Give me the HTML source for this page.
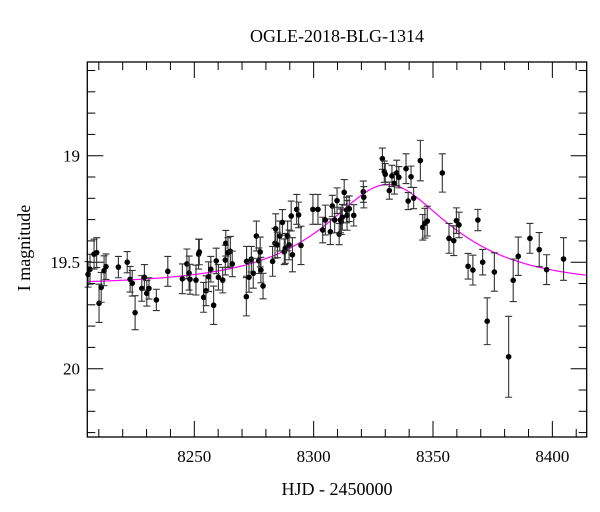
<!DOCTYPE html>
<html><head><meta charset="utf-8"><style>
html,body{margin:0;padding:0;background:#fff;}
svg{display:block;font-family:"Liberation Serif",serif;}
</style></head><body>
<svg id="chart" width="600" height="512" viewBox="0 0 600 512">
<rect x="0" y="0" width="600" height="512" fill="#fff"/>
<text x="337" y="42" font-size="18" text-anchor="middle">OGLE-2018-BLG-1314</text>
<g id="ticks"></g>
<path id="model" fill="none" stroke="#ff00ff" stroke-width="1.2"/>
<g id="pts"></g>
<rect x="87.3" y="62" width="499.4" height="375" fill="none" stroke="#000" stroke-width="1.3"/>
<text x="337" y="495" font-size="18" text-anchor="middle">HJD - 2450000</text>
<text transform="translate(30,248) rotate(-90)" font-size="18" text-anchor="middle">I magnitude</text>
</svg>
<script>
const hjd=[8205.5,8206.3,8208.0,8209.1,8210.1,8211.0,8212.2,8213.0,8218.2,8221.9,8223.1,8224.0,8225.2,8228.0,8229.1,8230.1,8231.0,8234.1,8238.9,8245.0,8246.9,8247.8,8248.2,8250.7,8251.8,8252.1,8253.9,8254.9,8256.0,8256.9,8258.1,8259.2,8260.1,8261.9,8263.0,8263.2,8264.1,8265.1,8265.9,8271.8,8271.9,8272.9,8273.9,8274.7,8276.0,8277.0,8277.6,8277.9,8278.8,8282.8,8283.8,8284.1,8284.8,8285.8,8286.9,8287.7,8288.1,8289.1,8289.7,8290.6,8291.1,8292.9,8293.7,8294.7,8299.7,8301.8,8303.8,8304.9,8307.0,8307.8,8308.8,8309.8,8310.7,8311.2,8311.6,8312.0,8312.8,8313.8,8314.0,8314.9,8316.8,8320.8,8321.0,8328.8,8329.6,8330.0,8331.7,8332.8,8333.8,8334.8,8335.7,8338.7,8339.6,8340.8,8341.9,8344.7,8345.7,8346.6,8347.6,8353.9,8356.7,8358.7,8359.8,8360.9,8364.7,8366.7,8368.8,8370.8,8372.7,8375.7,8381.7,8383.6,8385.7,8390.6,8394.5,8397.6,8404.7];
const mag=[19.557,19.533,19.462,19.455,19.693,19.618,19.540,19.521,19.523,19.500,19.580,19.599,19.737,19.623,19.571,19.646,19.623,19.677,19.543,19.578,19.508,19.551,19.580,19.584,19.462,19.452,19.665,19.634,19.568,19.533,19.702,19.494,19.571,19.584,19.490,19.411,19.455,19.449,19.508,19.662,19.496,19.571,19.486,19.552,19.377,19.493,19.452,19.537,19.612,19.496,19.411,19.343,19.419,19.377,19.313,19.451,19.435,19.377,19.419,19.283,19.465,19.252,19.278,19.421,19.252,19.252,19.349,19.302,19.357,19.236,19.302,19.211,19.368,19.302,19.310,19.289,19.172,19.255,19.280,19.249,19.280,19.169,19.195,19.014,19.075,19.087,19.164,19.095,19.130,19.081,19.101,19.061,19.213,19.099,19.199,19.023,19.336,19.317,19.307,19.081,19.388,19.399,19.305,19.325,19.519,19.537,19.302,19.500,19.777,19.546,19.944,19.585,19.472,19.388,19.441,19.535,19.485];
const magErr=[0.06,0.07,0.07,0.07,0.09,0.07,0.07,0.06,0.05,0.05,0.06,0.06,0.08,0.06,0.06,0.06,0.05,0.05,0.07,0.07,0.07,0.08,0.07,0.07,0.07,0.06,0.07,0.07,0.07,0.06,0.09,0.06,0.06,0.06,0.07,0.06,0.07,0.07,0.06,0.09,0.07,0.07,0.06,0.07,0.07,0.06,0.07,0.06,0.06,0.07,0.07,0.07,0.06,0.07,0.06,0.06,0.07,0.07,0.07,0.07,0.08,0.07,0.06,0.09,0.07,0.07,0.06,0.07,0.06,0.05,0.06,0.06,0.05,0.06,0.06,0.06,0.06,0.06,0.07,0.06,0.05,0.05,0.05,0.05,0.05,0.05,0.04,0.05,0.05,0.06,0.05,0.07,0.04,0.05,0.05,0.095,0.06,0.07,0.07,0.09,0.07,0.07,0.06,0.06,0.06,0.07,0.05,0.06,0.11,0.09,0.19,0.1,0.09,0.07,0.08,0.07,0.1];
const xTickLabels=[8250,8300,8350,8400];
const yTickLabels=[19,19.5,20];
const modelT0=[8331], modelTE=[50], modelU0=[0.5], modelFs=[0.458], modelBase=[19.605];

const X=d=>194.3+(d-8250)*2.387;
const Y=m=>155.7+(m-19)*213;
const NS="http://www.w3.org/2000/svg";
function mk(tag,attrs,parent){const e=document.createElementNS(NS,tag);for(const k in attrs)e.setAttribute(k,attrs[k]);parent.appendChild(e);return e;}
const tk=document.getElementById('ticks');
const L=87.3,R=586.7,T=62,B=437;
// x ticks every 10 days
for(let d=8210;d<=8410;d+=10){
  const x=X(d),maj=d%50===0,len=maj?16:8;
  const a=mk('line',{x1:x,x2:x,y1:B,y2:B-len,stroke:'#000','stroke-width':1},tk);
  
  
  const b=mk('line',{x1:x,x2:x,y1:T,y2:T+len,stroke:'#000','stroke-width':1},tk);
  
  
}
xTickLabels.forEach(d=>{
  const t=mk('text',{x:X(d),y:462,'font-size':17,'text-anchor':'middle'},tk);
  t.textContent=String(d);
  
  
});
// y ticks every 0.1 mag
for(let i=6;i<=33;i++){
  const m=i/10+17.0;
  const y=Y(m); if(y<T||y>B) continue;
  const maj=(i%5===0),len=maj?16:8;
  const a=mk('line',{x1:L,x2:L+len,y1:y,y2:y,stroke:'#000','stroke-width':1},tk);
  
  
  const b=mk('line',{x1:R,x2:R-len,y1:y,y2:y,stroke:'#000','stroke-width':1},tk);
  
  
}
yTickLabels.forEach(m=>{
  const t=mk('text',{x:80,y:Y(m)+6,'font-size':17,'text-anchor':'end'},tk);
  t.textContent=String(m);
  
  
});
// model curve
function amp(u){return (u*u+2)/(u*Math.sqrt(u*u+4));}
let dpath='';
for(let d=8205.2;d<=8414.4;d+=0.5){
  const tau=(d-modelT0[0])/modelTE[0];
  const u=Math.sqrt(modelU0[0]*modelU0[0]+tau*tau);
  const A0=amp(Math.sqrt(modelU0[0]*modelU0[0]+100));
  const f=1+modelFs[0]*(amp(u)-1);
  const m=modelBase[0]-2.5*Math.log10(f);
  dpath+=(dpath?'L':'M')+X(d).toFixed(2)+','+Y(m).toFixed(2);
}
document.getElementById('model').setAttribute('d',dpath);
// points
const pg=document.getElementById('pts');
hjd.forEach((d,i)=>{
  const x=X(d),y1=Y(mag[i]-magErr[i]),y2=Y(mag[i]+magErr[i]);
  const g=mk('g',{},pg);
  
  
  mk('path',{d:`M${x},${y1}L${x},${y2}M${x-3.5},${y1}L${x+3.5},${y1}M${x-3.5},${y2}L${x+3.5},${y2}`,stroke:'#333','stroke-width':1.1,fill:'none'},g);
  mk('circle',{cx:x,cy:Y(mag[i]),r:2.8,fill:'#000'},g);
});
</script>
</body></html>
